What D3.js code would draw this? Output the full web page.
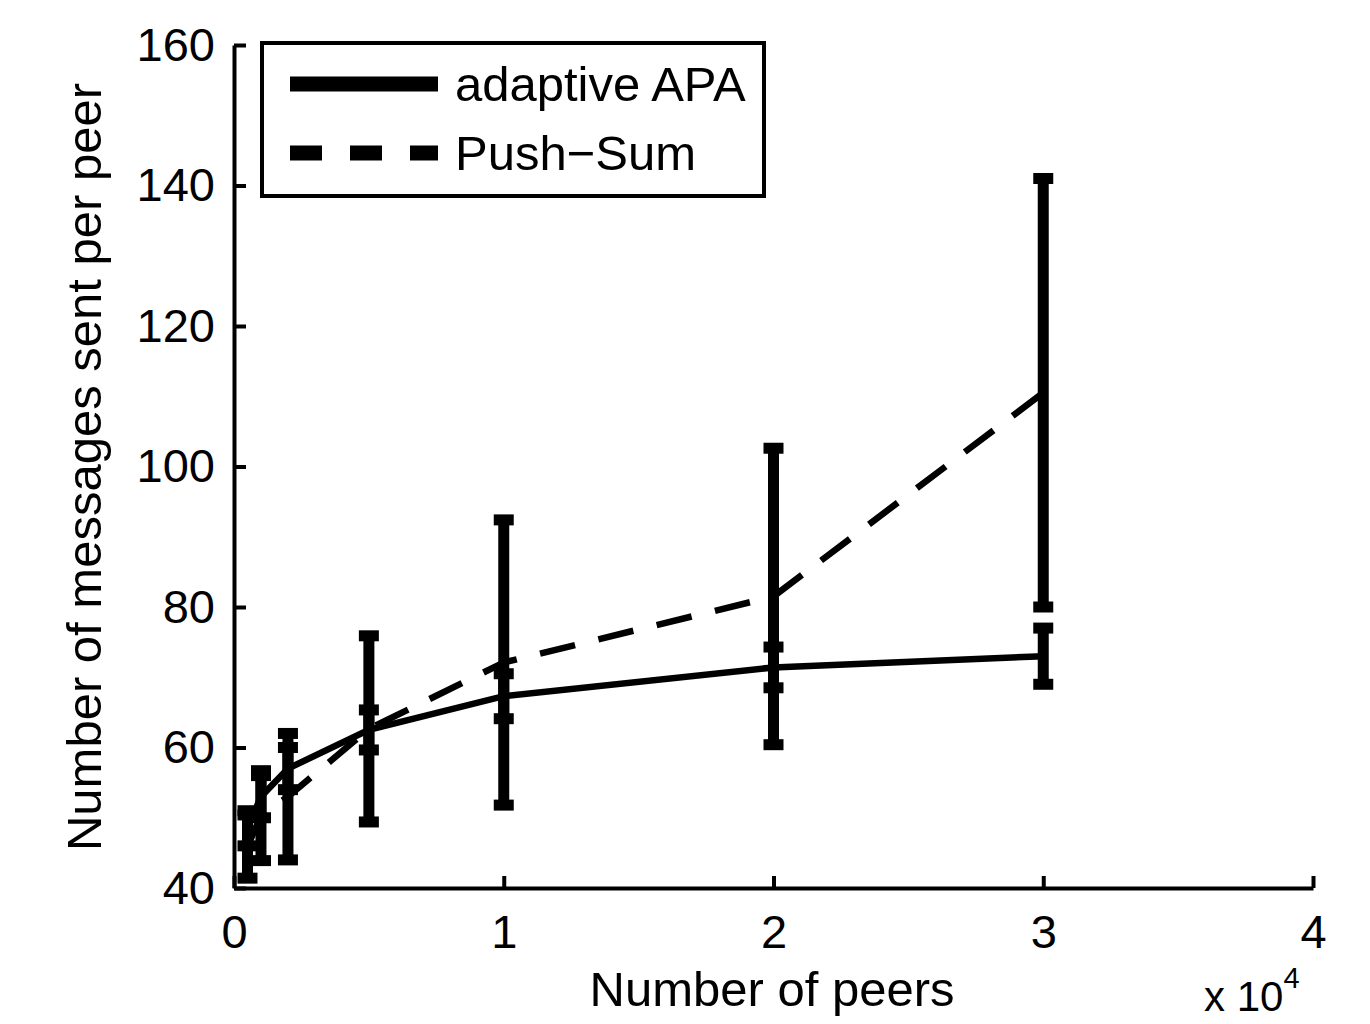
<!DOCTYPE html>
<html>
<head>
<meta charset="utf-8">
<script src="https://cdn.jsdelivr.net/npm/d3@7"></script>
<style>
  body { margin: 0; background: #fff; }
  text { font-family: "Liberation Sans", Arial, sans-serif; fill: #000; }
</style>
</head>
<body>
<div class="chart"></div>
<script>
// data
const peers = [500, 1000, 2000, 5000, 10000, 20000, 30000];
const apaMean = [48.5, 53, 57, 62.5, 67.3, 71.4, 73];
const apaErr = [2.5, 3, 3, 2.85, 3.2, 2.9, 4];
const pushMean = [45.9, 50.3, 53, 62.65, 72.1, 81.5, 110.5];
const pushErr = [4.5, 6.4, 9, 13.25, 20.3, 21.1, 30.5];
const xTicks = [0, 10000, 20000, 30000, 40000];
const yTicks = [40, 60, 80, 100, 120, 140, 160];
const seriesNames = ["adaptive APA", "Push\u2212Sum"];

const widthOfSvg = 1370;
const heightOfSvg = 1024;
const plotLeft = 234, plotRight = 1313, plotTop = 45, plotBottom = 888;

const xScale = d3.scaleLinear().domain([0, 40000]).range([plotLeft, plotRight]);
const yScale = d3.scaleLinear().domain([40, 160]).range([plotBottom, plotTop]);

const svg = d3.select(".chart")
  .append("svg")
  .attr("width", widthOfSvg)
  .attr("height", heightOfSvg);

// axes, ticks point inward like matlab
const xAxis = d3.axisBottom(xScale)
  .tickValues(xTicks)
  .tickFormat(d => d / 10000)
  .tickSizeInner(-12)
  .tickSizeOuter(0)
  .tickPadding(27);

const yAxis = d3.axisLeft(yScale)
  .tickValues(yTicks)
  .tickSizeInner(-12)
  .tickSizeOuter(0)
  .tickPadding(19);

const gx = svg.append("g")
  .attr("transform", "translate(0," + plotBottom + ")")
  .call(xAxis);
const gy = svg.append("g")
  .attr("transform", "translate(" + plotLeft + ",0)")
  .call(yAxis);

[gx, gy].forEach(g => {
  g.select(".domain").attr("stroke", "#000").attr("stroke-width", 4);
  g.selectAll(".tick line").attr("stroke", "#000").attr("stroke-width", 4);
  g.selectAll(".tick text")
    .attr("font-size", 47)
    .attr("font-family", "Liberation Sans, Arial, sans-serif")
    .attr("fill", "#000");
});

// series
const apa = peers.map((p, i) => ({ x: p, y: apaMean[i], e: apaErr[i] }));
const push = peers.map((p, i) => ({ x: p, y: pushMean[i], e: pushErr[i] }));

const line = d3.line().x(d => xScale(d.x)).y(d => yScale(d.y));

function drawSeries(data, dash) {
  const g = svg.append("g");
  g.append("path")
    .datum(data)
    .attr("d", line)
    .attr("fill", "none")
    .attr("stroke", "#000")
    .attr("stroke-width", 6.5)
    .attr("stroke-dasharray", dash);

  // error bars
  g.selectAll(".bar")
    .data(data)
    .enter()
    .append("line")
    .attr("x1", d => xScale(d.x))
    .attr("x2", d => xScale(d.x))
    .attr("y1", d => yScale(d.y + d.e))
    .attr("y2", d => yScale(d.y - d.e))
    .attr("stroke", "#000")
    .attr("stroke-width", 11);

  const caps = data.flatMap(d => [{ x: d.x, y: d.y + d.e }, { x: d.x, y: d.y - d.e }]);
  g.selectAll(".cap")
    .data(caps)
    .enter()
    .append("line")
    .attr("x1", d => xScale(d.x) - 10)
    .attr("x2", d => xScale(d.x) + 10)
    .attr("y1", d => yScale(d.y))
    .attr("y2", d => yScale(d.y))
    .attr("stroke", "#000")
    .attr("stroke-width", 11);
}

drawSeries(apa, null);
drawSeries(push, "36,24");

// axis labels
svg.append("text")
  .attr("x", 772)
  .attr("y", 1006)
  .attr("text-anchor", "middle")
  .attr("font-size", 49)
  .text("Number of peers");

svg.append("text")
  .attr("transform", "translate(101,467) rotate(-90)")
  .attr("text-anchor", "middle")
  .attr("font-size", 49)
  .text("Number of messages sent per peer");

// exponent label, nudged up so it stays inside the page
const mult = svg.append("text")
  .attr("x", 1204)
  .attr("y", 1011)
  .attr("font-size", 42);
mult.append("tspan").text("x 10");
mult.append("tspan").attr("font-size", 29).attr("dy", -23).text("4");

// legend
const legend = svg.append("g");
legend.append("rect")
  .attr("x", 262)
  .attr("y", 43)
  .attr("width", 502)
  .attr("height", 153)
  .attr("fill", "#fff")
  .attr("stroke", "#000")
  .attr("stroke-width", 4);

const legendRows = [{ name: seriesNames[0], dash: null, y: 84 }, { name: seriesNames[1], dash: "32,28", y: 153 }];
legendRows.forEach(r => {
  legend.append("line")
    .attr("x1", 290)
    .attr("x2", 438)
    .attr("y1", r.y)
    .attr("y2", r.y)
    .attr("stroke", "#000")
    .attr("stroke-width", 15)
    .attr("stroke-dasharray", r.dash);
  legend.append("text")
    .attr("x", 455)
    .attr("y", r.y + 17)
    .attr("font-size", 49)
    .text(r.name);
});
</script>
</body>
</html>
